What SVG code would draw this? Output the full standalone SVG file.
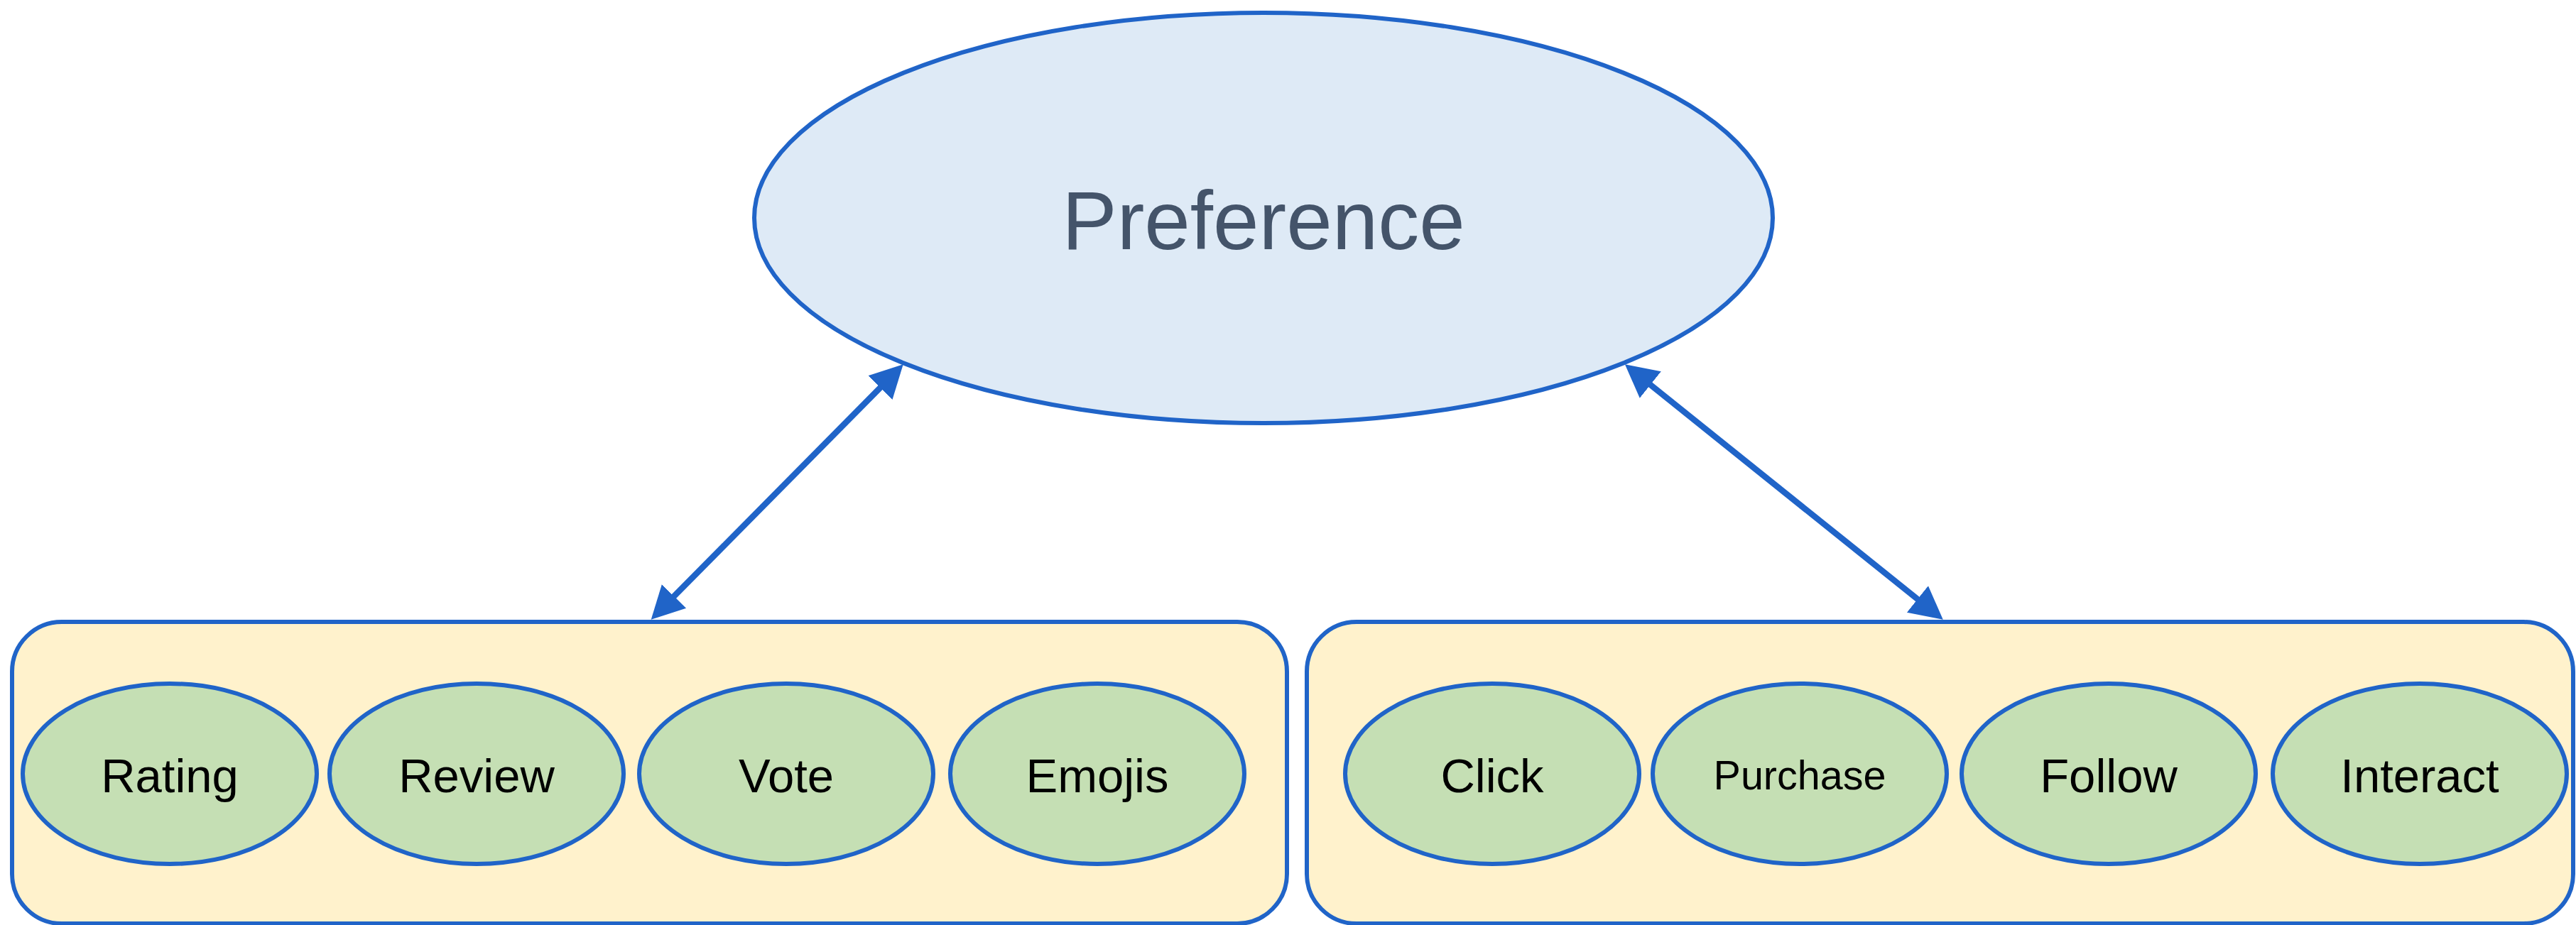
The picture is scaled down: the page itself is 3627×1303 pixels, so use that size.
<svg xmlns="http://www.w3.org/2000/svg" width="3627" height="1303" viewBox="0 0 3627 1303">
<style>
.box{fill:#FFF2CC;stroke:#2064C8;stroke-width:6}
.main{fill:#DEEAF6;stroke:#2064C8;stroke-width:6}
.item{fill:#C5DFB4;stroke:#2064C8;stroke-width:6}
.lbl{font-family:"Liberation Sans",Arial,sans-serif;font-size:67px;fill:#000;text-anchor:middle}
.big{font-family:"Liberation Sans",Arial,sans-serif;font-size:116px;fill:#44546A;text-anchor:middle}
.conn{stroke:#2064C8;stroke-width:8.5;fill:none;marker-start:url(#ah);marker-end:url(#ah)}
</style>
<defs>
<marker id="ah" markerUnits="userSpaceOnUse" markerWidth="60" markerHeight="60" viewBox="0 -30 60 60" refX="10" refY="0" orient="auto-start-reverse">
<path d="M46,0 L0,-24 L0,24 Z" fill="#2064C8"/>
</marker>
</defs>
<rect width="3627" height="1303" fill="#FFFFFF"/>
<g id="group-explicit"><rect class="box" x="17" y="876" width="1795" height="425" rx="70" ry="70"/></g>
<g id="group-implicit"><rect class="box" x="1840" y="876" width="1783" height="425" rx="70" ry="70"/></g>
<g id="preference"><ellipse class="main" cx="1779" cy="307" rx="717" ry="289"/><text class="big" x="1779" y="351">Preference</text></g>
<g id="rating"><ellipse class="item" cx="239" cy="1090" rx="207" ry="127"/><text class="lbl" x="239" y="1116">Rating</text></g>
<g id="review"><ellipse class="item" cx="671" cy="1090" rx="207" ry="127"/><text class="lbl" x="671" y="1116">Review</text></g>
<g id="vote"><ellipse class="item" cx="1107" cy="1090" rx="207" ry="127"/><text class="lbl" x="1107" y="1116">Vote</text></g>
<g id="emojis"><ellipse class="item" cx="1545" cy="1090" rx="207" ry="127"/><text class="lbl" x="1545" y="1116">Emojis</text></g>
<g id="click"><ellipse class="item" cx="2101" cy="1090" rx="207" ry="127"/><text class="lbl" x="2101" y="1116">Click</text></g>
<g id="purchase"><ellipse class="item" cx="2534" cy="1090" rx="207" ry="127"/><text class="lbl" x="2534" y="1112" style="font-size:57.5px">Purchase</text></g>
<g id="follow"><ellipse class="item" cx="2969" cy="1090" rx="207" ry="127"/><text class="lbl" x="2969" y="1116">Follow</text></g>
<g id="interact"><ellipse class="item" cx="3407" cy="1090" rx="207" ry="127"/><text class="lbl" x="3407" y="1116">Interact</text></g>
<g id="connectors">
<line class="conn" x1="942.0" y1="847.1" x2="1246.4" y2="538.9"/>
<line class="conn" x1="2316.0" y1="535.8" x2="2707.7" y2="850.2"/>
</g>
</svg>
